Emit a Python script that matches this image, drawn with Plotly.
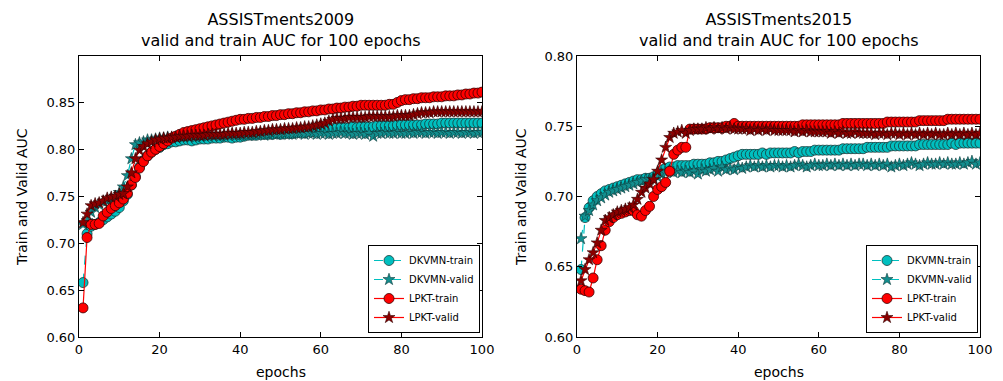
import plotly.graph_objects as go

epochs = list(range(1, 101))

# ASSISTments2009
d09_train = [.658, .710, .718, .720, .722, .725, .728, .731, .734, .738,
             .745, .752, .762, .771, .781, .788, .793, .797, .800, .802,
             .805, .806, .808, .808, .809, .810, .810, .809, .810, .811,
             .811, .811, .812, .812, .812, .813, .813, .812, .813, .813,
             .814, .815, .815, .815, .816, .816, .816, .816, .817, .816,
             .817, .817, .817, .818, .818, .818, .819, .819, .820, .820,
             .821, .822, .822, .823, .823, .823, .823, .824, .823, .824,
             .824, .824, .824, .825, .825, .825, .825, .825, .826, .826,
             .826, .826, .826, .826, .826, .827, .827, .827, .827, .828,
             .828, .828, .828, .828, .828, .828, .828, .828, .828, .828]
d09_valid = [.720, .724, .733, .738, .741, .744, .745, .747, .750, .754,
             .760, .772, .790, .805, .807, .808, .810, .810, .811, .812,
             .812, .813, .812, .813, .814, .813, .814, .814, .813, .814,
             .815, .814, .815, .815, .814, .815, .815, .816, .815, .815,
             .816, .815, .816, .816, .816, .815, .816, .817, .816, .816,
             .817, .816, .816, .817, .817, .816, .817, .817, .816, .817,
             .817, .816, .817, .817, .818, .817, .817, .816, .817, .817,
             .816, .817, .814, .817, .817, .818, .817, .817, .818, .817,
             .817, .818, .817, .818, .818, .817, .818, .818, .817, .818,
             .818, .817, .818, .818, .817, .818, .818, .817, .818, .818]
l09_train = [.631, .706, .720, .720, .721, .729, .733, .737, .740, .743,
             .747, .753, .762, .770, .780, .787, .793, .797, .800, .803,
             .806, .809, .812, .814, .816, .818, .819, .820, .821, .822,
             .823, .824, .825, .826, .827, .828, .829, .830, .831, .832,
             .832, .833, .833, .834, .834, .835, .835, .836, .836, .837,
             .837, .838, .838, .839, .839, .840, .840, .841, .841, .842,
             .842, .843, .843, .844, .844, .845, .845, .846, .846, .847,
             .847, .847, .847, .847, .847, .847, .848, .848, .850, .852,
             .853, .853, .854, .854, .855, .855, .855, .856, .856, .856,
             .857, .857, .857, .858, .858, .859, .859, .860, .860, .861]
l09_valid = [.722, .731, .740, .742, .743, .745, .748, .749, .750, .752,
             .753, .760, .775, .790, .799, .803, .806, .808, .810, .811,
             .812, .812, .813, .813, .814, .814, .814, .815, .815, .815,
             .815, .816, .816, .816, .816, .816, .817, .817, .817, .817,
             .818, .818, .818, .819, .819, .820, .820, .821, .821, .821,
             .822, .822, .822, .823, .823, .824, .824, .825, .826, .827,
             .828, .830, .832, .833, .833, .833, .834, .834, .834, .834,
             .834, .835, .835, .835, .835, .835, .835, .835, .836, .836,
             .836, .836, .837, .838, .839, .839, .839, .840, .840, .840,
             .840, .840, .840, .840, .840, .840, .840, .840, .840, .840]

# ASSISTments2015
d15_train = [.648, .685, .692, .697, .700, .702, .704, .705, .706, .707,
             .708, .709, .710, .711, .712, .712, .713, .713, .714, .716,
             .719, .720, .721, .721, .722, .722, .722, .722, .723, .723,
             .723, .723, .724, .724, .725, .725, .726, .727, .728, .729,
             .730, .730, .730, .730, .730, .731, .730, .731, .731, .731,
             .731, .731, .731, .732, .731, .732, .732, .732, .733, .733,
             .733, .733, .733, .733, .733, .734, .734, .734, .734, .734,
             .734, .735, .735, .735, .735, .735, .735, .736, .736, .736,
             .736, .736, .736, .736, .737, .737, .737, .737, .737, .737,
             .737, .737, .738, .737, .738, .738, .738, .738, .738, .738]
d15_valid = [.670, .686, .690, .694, .697, .699, .701, .703, .704, .705,
             .706, .707, .708, .709, .710, .711, .712, .712, .713, .714,
             .716, .717, .718, .717, .718, .717, .718, .717, .718, .716,
             .719, .718, .719, .720, .718, .721, .719, .720, .719, .721,
             .720, .721, .722, .721, .722, .721, .722, .721, .722, .722,
             .721, .722, .721, .722, .723, .722, .721, .722, .723, .722,
             .722, .723, .722, .723, .722, .723, .722, .723, .722, .723,
             .723, .722, .723, .722, .723, .722, .723, .721, .722, .723,
             .722, .723, .724, .723, .722, .723, .724, .723, .723, .724,
             .723, .724, .723, .723, .724, .723, .724, .725, .723, .724]
l15_train = [.634, .633, .632, .642, .655, .665, .676, .682, .685, .687,
             .688, .689, .690, .690, .687, .686, .690, .693, .700, .705,
             .707, .710, .718, .730, .733, .735, .735, .748, .748, .748,
             .748, .748, .749, .749, .749, .749, .750, .750, .752, .750,
             .750, .750, .750, .750, .750, .750, .750, .750, .750, .750,
             .750, .750, .750, .750, .750, .751, .751, .751, .751, .751,
             .751, .751, .751, .751, .751, .752, .752, .752, .752, .752,
             .752, .752, .752, .752, .752, .752, .753, .753, .753, .753,
             .753, .753, .753, .753, .754, .754, .754, .754, .754, .754,
             .754, .755, .755, .755, .755, .755, .755, .755, .755, .755]
l15_valid = [.640, .648, .655, .660, .667, .676, .683, .685, .687, .689,
             .690, .691, .692, .694, .698, .703, .706, .709, .712, .718,
             .726, .735, .742, .745, .746, .747, .745, .747, .748, .748,
             .748, .749, .748, .749, .748, .749, .748, .749, .748, .748,
             .748, .748, .747, .748, .747, .748, .747, .748, .747, .747,
             .747, .747, .747, .746, .747, .746, .747, .746, .746, .746,
             .746, .746, .745, .746, .745, .746, .745, .745, .746, .745,
             .745, .745, .745, .744, .745, .745, .744, .745, .745, .744,
             .745, .744, .745, .744, .745, .744, .745, .744, .745, .744,
             .744, .745, .744, .745, .744, .745, .744, .745, .744, .745]

titles = ["ASSISTments2009<br>valid and train AUC for 100 epochs",
          "ASSISTments2015<br>valid and train AUC for 100 epochs"]
names = ["DKVMN-train", "DKVMN-valid", "LPKT-train", "LPKT-valid"]
x_ticks = [0, 20, 40, 60, 80, 100]
y_ticks_09 = [0.6, 0.65, 0.7, 0.75, 0.8, 0.85]
y_ticks_15 = [0.6, 0.65, 0.7, 0.75, 0.8]

FONT = "DejaVu Sans"
fig = go.Figure()

styles = [
    dict(line=dict(color="#00BFBF", width=1.2, dash="dash"),
         marker=dict(symbol="circle", size=10, color="#00BFBF", line=dict(color="#1a3a3a", width=0.8))),
    dict(line=dict(color="#00BFBF", width=1.2, dash="dash"),
         marker=dict(symbol="star", size=9, color="#138f8f", line=dict(color="#0b3b3b", width=0.6))),
    dict(line=dict(color="#FF0000", width=1.2),
         marker=dict(symbol="circle", size=10, color="#FF0000", line=dict(color="#3a0000", width=0.8))),
    dict(line=dict(color="#FF0000", width=1.2),
         marker=dict(symbol="star", size=9, color="#8B0000", line=dict(color="#300000", width=0.6))),
]

panels = [
    ("x", "y", "legend", [d09_train, d09_valid, l09_train, l09_valid]),
    ("x2", "y2", "legend2", [d15_train, d15_valid, l15_train, l15_valid]),
]
for xa, ya, lg, series in panels:
    for nm, vals, st in zip(names, series, styles):
        fig.add_trace(go.Scatter(x=epochs, y=vals, name=nm, mode="lines+markers",
                                 xaxis=xa, yaxis=ya, legend=lg, **st))

axis_common = dict(showline=True, linecolor="black", linewidth=1, mirror="ticks",
                   ticks="inside", ticklen=5, tickcolor="black", showgrid=False,
                   zeroline=False, automargin=False,
                   tickfont=dict(family=FONT, size=13, color="black"))

dom_y = [1 - 337 / 381, 1 - 56 / 381]
legend_common = dict(y=1 - 333 / 381, xanchor="right", yanchor="bottom",
                     bordercolor="black", borderwidth=1, bgcolor="white",
                     font=dict(family=FONT, size=10), tracegroupgap=0, itemwidth=30)
fig.update_layout(
    width=1003, height=381,
    margin=dict(l=0, r=0, t=0, b=0),
    paper_bgcolor="white", plot_bgcolor="white",
    font=dict(family=FONT, color="black"),
    xaxis=dict(domain=[79 / 1003, 482 / 1003], range=[0, 100], tickvals=x_ticks,
               anchor="y", **axis_common),
    yaxis=dict(domain=dom_y, range=[0.6, 0.8995], tickvals=y_ticks_09,
               tickformat=".2f", anchor="x", **axis_common),
    xaxis2=dict(domain=[577 / 1003, 980 / 1003], range=[0, 100], tickvals=x_ticks,
                anchor="y2", **axis_common),
    yaxis2=dict(domain=dom_y, range=[0.6, 0.8], tickvals=y_ticks_15,
                tickformat=".2f", anchor="x2", **axis_common),
    legend=dict(x=480 / 1003, **legend_common),
    legend2=dict(x=978 / 1003, **legend_common),
    showlegend=True,
)

for cx, t in zip([280.5 / 1003, 778.5 / 1003], titles):
    fig.add_annotation(text=t, x=cx, y=1 - 52 / 381, xref="paper", yref="paper",
                       xanchor="center", yanchor="bottom", showarrow=False,
                       font=dict(family=FONT, size=16, color="black"))
    fig.add_annotation(text="epochs", x=cx, y=1 - 372 / 381, xref="paper", yref="paper",
                       xanchor="center", yanchor="middle", showarrow=False,
                       font=dict(family=FONT, size=14, color="black"))

for lx in [22 / 1003, 521 / 1003]:
    fig.add_annotation(text="Train and Valid AUC", x=lx, y=1 - 197 / 381, xref="paper", yref="paper",
                       xanchor="center", yanchor="middle", textangle=-90, showarrow=False,
                       font=dict(family=FONT, size=14, color="black"))

fig.write_html("out.html", config={"displayModeBar": False},
               post_script="document.body.style.margin='0px';document.body.style.overflow='hidden';")
